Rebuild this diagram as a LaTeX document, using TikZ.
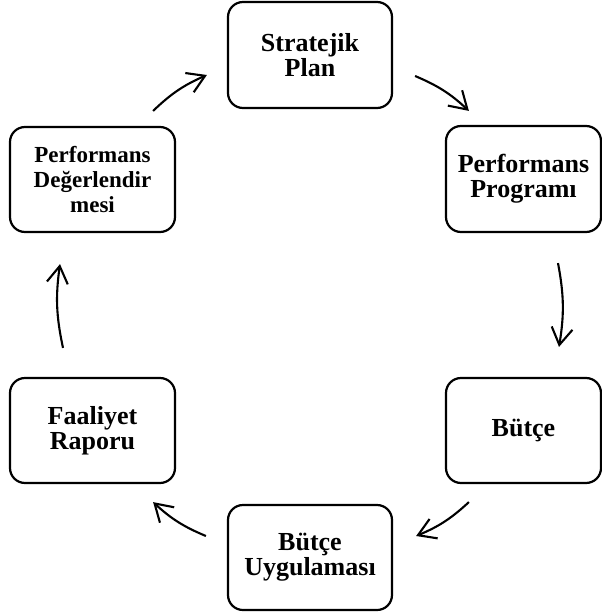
\documentclass[tikz,border=0pt]{standalone}
\usepackage{fontspec}
\setmainfont{Liberation Serif}
\usetikzlibrary{arrows.meta}

\tikzset{
  stage/.style={draw=black, line width=2.2pt, rounded corners=15pt,
    inner sep=0pt, align=center, fill=white,
    font=\bfseries\fontsize{26}{25}\selectfont},
  smallstage/.style={stage, font=\bfseries\fontsize{23}{25}\selectfont},
  flow/.style={line width=2.1pt, bend left=10,
    -{Straight Barb[length=17pt,width=21pt,line width=2.1pt]}},
}

\begin{document}
\begin{tikzpicture}[x=1pt, y=-1pt]
  \useasboundingbox (0,0) rectangle (602,616);
  \begin{scope}
    \clip (0,0) rectangle (602,616);

    % the six stages of the cycle
    \node[stage, minimum width=164pt, minimum height=106pt] (sp) at (310,55) {Stratejik\\Plan};
    \node[stage, minimum width=155pt, minimum height=106pt] (pp) at (523.5,179) {Performans\\Programı};
    \node[stage, minimum width=155pt, minimum height=105pt] (b)  at (523.5,430.5) {Bütçe};
    \node[stage, minimum width=164pt, minimum height=105pt] (bu) at (310,557.5) {Bütçe\\Uygulaması};
    \node[stage, minimum width=165pt, minimum height=105pt] (fr) at (92.5,430.5) {Faaliyet\\Raporu};
    \node[smallstage, minimum width=165pt, minimum height=105pt] (pd) at (92.5,179.5) {Performans\\Değerlendir\\mesi};

    % arrow ends, set a little away from the boxes
    \coordinate (a1s) at ([shift={(-23,-15)}]pd.north east);
    \coordinate (a1e) at ([shift={(-20,20)}]sp.west);
    \coordinate (a2s) at ([shift={(22,21)}]sp.east);
    \coordinate (a2e) at ([shift={(24,-14)}]pp.north west);
    \coordinate (a3s) at ([shift={(34.5,30)}]pp.south);
    \coordinate (a3e) at ([shift={(35.5,-30)}]b.north);
    \coordinate (a4s) at ([shift={(24,18)}]b.south west);
    \coordinate (a4e) at ([shift={(23,-21.5)}]bu.east);
    \coordinate (a5s) at ([shift={(-21,-21.5)}]bu.west);
    \coordinate (a5e) at ([shift={(-23,18)}]fr.south east);
    \coordinate (a6s) at ([shift={(-29.5,-29)}]fr.north);
    \coordinate (a6e) at ([shift={(-32.5,31)}]pd.south);

    % clockwise flow between the stages
    \draw[flow] (a1s) to (a1e);
    \draw[flow] (a2s) to (a2e);
    \draw[flow] (a3s) to (a3e);
    \draw[flow] (a4s) to (a4e);
    \draw[flow] (a5s) to (a5e);
    \draw[flow] (a6s) to (a6e);
  \end{scope}
\end{tikzpicture}
\end{document}
